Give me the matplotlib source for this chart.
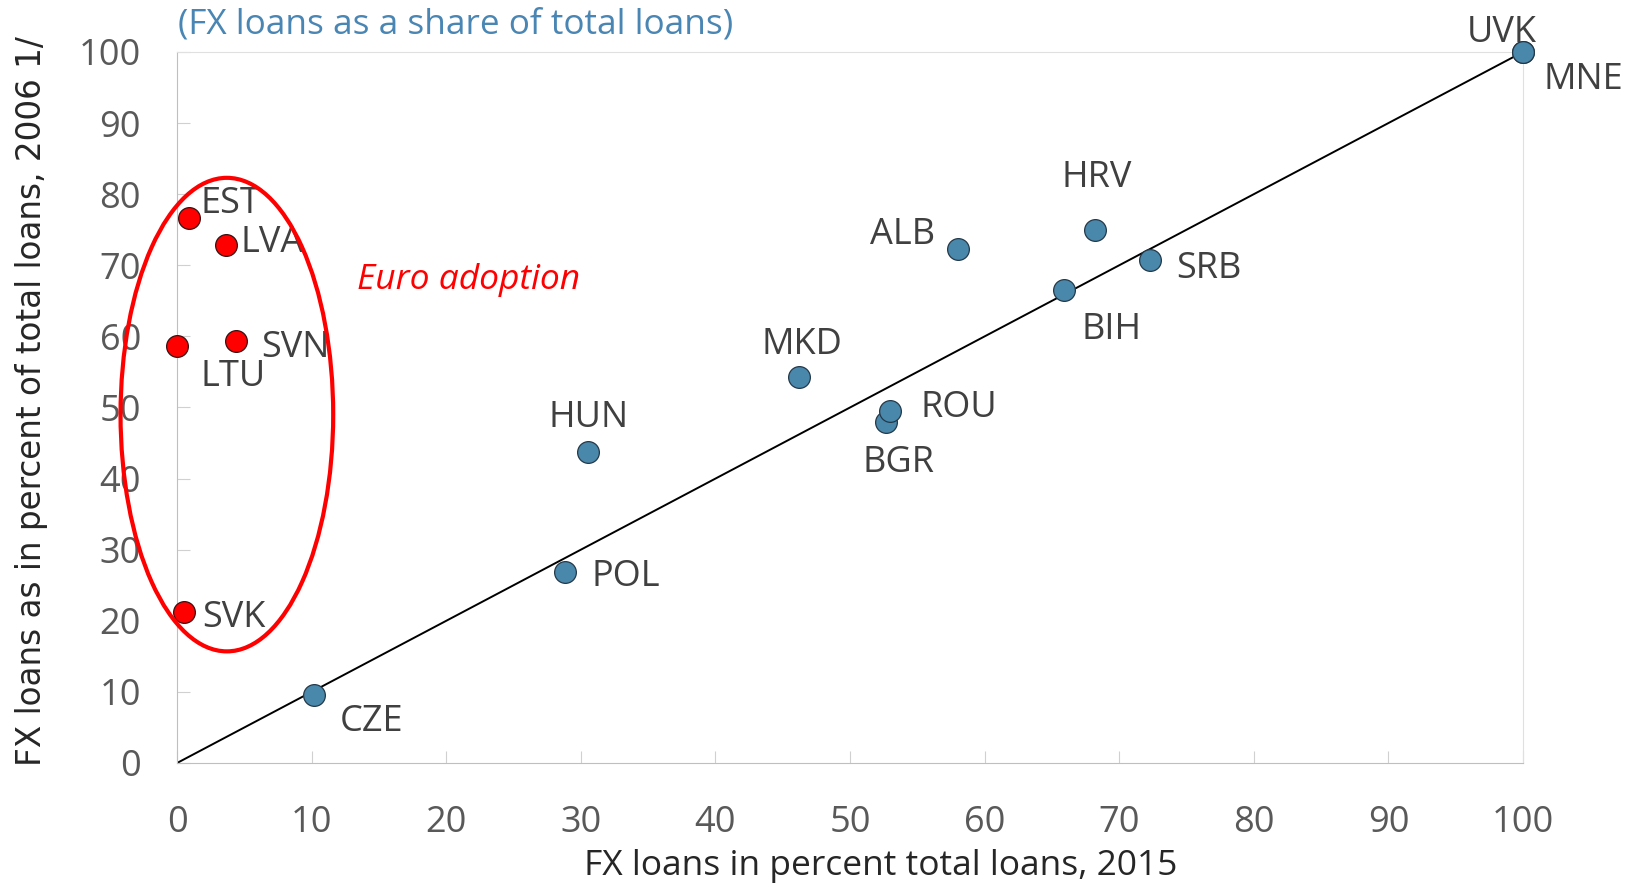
import matplotlib
matplotlib.use("Agg")
from matplotlib import pyplot as plt
from matplotlib.patches import Ellipse

# 数据 (x: 2015, y: 2006)
euro_names = ["EST", "LVA", "LTU", "SVN", "SVK"]
euro_x = [0.9, 3.6, 0.0, 4.4, 0.5]
euro_y = [76.7, 72.9, 58.6, 59.4, 21.2]

other_names = ["CZE", "POL", "HUN", "MKD", "BGR", "ROU", "ALB", "BIH", "HRV", "SRB", "UVK", "MNE"]
other_x = [10.2, 28.8, 30.5, 46.2, 52.7, 53.0, 58.0, 65.9, 68.2, 72.3, 100.0, 100.0]
other_y = [9.5, 26.9, 43.8, 54.3, 48.0, 49.5, 72.3, 66.5, 75.0, 70.7, 100.0, 100.0]

ticks = [0, 10, 20, 30, 40, 50, 60, 70, 80, 90, 100]

# 标签偏移 (points) 和对齐方式
label_pos = {
    "EST": (8, 13, "left"), "LVA": (11, 4, "left"), "LTU": (17, -19, "left"),
    "SVN": (18, -2, "left"), "SVK": (13, -1, "left"),
    "CZE": (18, -16, "left"), "POL": (19, -1, "left"), "HUN": (1, 27, "center"),
    "MKD": (2, 26, "center"), "BGR": (9, -27, "center"), "ROU": (22, 5, "left"),
    "ALB": (-16, 13, "right"), "BIH": (34, -26, "center"), "HRV": (1, 40, "center"),
    "SRB": (19, -3, "left"), "UVK": (-15, 17, "center"), "MNE": (15, -17, "left"),
}

plt.rcParams['font.family'] = ['Open Sans', 'DejaVu Sans']

fig = plt.figure(figsize=(16.32, 8.9), dpi=100)
ax = fig.add_axes([0.1085, 0.1427, 0.8247, 0.7989])

ax.plot([0, 100], [0, 100], color="black", lw=1.4, zorder=2)

ax.scatter(other_x, other_y, s=245, color="#4a88ab", edgecolor="#23394a", linewidth=0.9, zorder=3, clip_on=False)
ax.scatter(euro_x, euro_y, s=245, color="#ff0000", edgecolor="#3a1010", linewidth=0.9, zorder=3, clip_on=False)

for names, xs, ys in [(euro_names, euro_x, euro_y), (other_names, other_x, other_y)]:
    for n, x, y in zip(names, xs, ys):
        dx, dy, ha = label_pos[n]
        # 文字略微下移一点
        ax.annotate(n, (x, y), xytext=(dx, dy - 3), textcoords="offset points",
                    ha=ha, va="center", fontsize=26, color="#404040", annotation_clip=False)

ell = Ellipse((3.7, 49.0), 15.8, 66.6, fill=False, edgecolor="#ff0000", lw=3, clip_on=False, zorder=4)
ax.add_patch(ell)
ax.text(13.4, 67.9, "Euro adoption", color="#ff0000", fontsize=25.5, style="italic", va="center")

ax.set_xlim(0, 100)
ax.set_ylim(0, 100)
ax.set_xticks(ticks)
ax.set_yticks(ticks)
ax.tick_params(axis="both", direction="in", length=9, color="#d0d0d0", labelsize=26, labelcolor="#595959")
ax.tick_params(axis="x", pad=30)
ax.tick_params(axis="y", pad=26)

for s in ["left", "bottom"]:
    ax.spines[s].set_color("#bfbfbf")
for s in ["top", "right"]:
    ax.spines[s].set_color("#e0e0e0")

fig.text(0.5395, 0.027, "FX loans in percent total loans, 2015", fontsize=25.5, color="#262626",
         ha="center", va="center")
fig.text(0.019, 0.549, "FX loans as in percent of total loans, 2006 1/", rotation=90,
         fontsize=23.5, color="#262626", family="DejaVu Sans", ha="center", va="center")
fig.text(0.109, 0.972, "(FX loans as a share of total loans)", fontsize=25.3, color="#4a86b4", va="center")

fig.savefig("out.png", dpi=100)
